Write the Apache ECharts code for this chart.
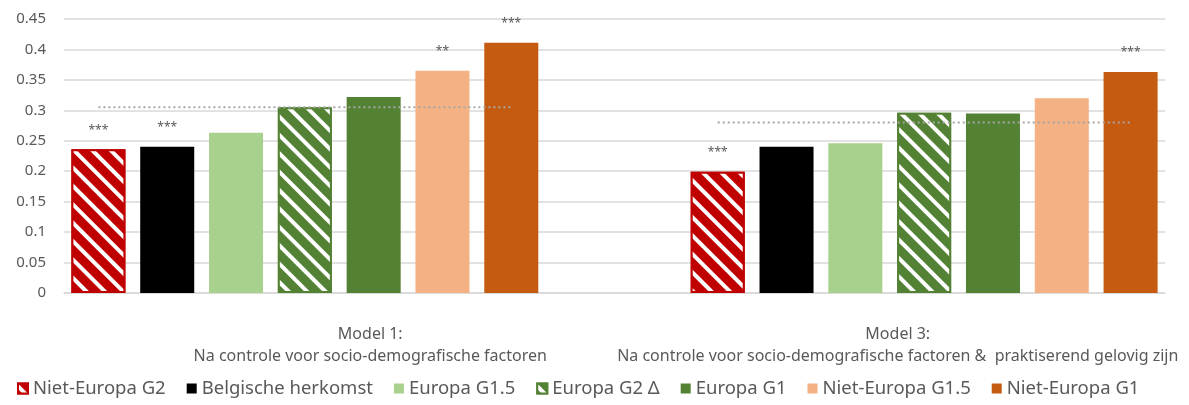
<!DOCTYPE html>
<html>
<head>
<meta charset="utf-8">
<script src="https://cdn.jsdelivr.net/npm/echarts@6/dist/echarts.min.js"></script>
<style>
html,body{margin:0;padding:0;background:#fff;}
#chart{width:1189px;height:405px;}
</style>
</head>
<body>
<div id="chart"></div>
<script>
// ---- data ----
const models = [
  'Model 1:\nNa controle voor socio-demografische factoren',
  'Model 3:\nNa controle voor socio-demografische factoren &  praktiserend gelovig zijn'
];
const seriesNames = ['Niet-Europa G2', 'Belgische herkomst', 'Europa G1.5', 'Europa G2 \u0394', 'Europa G1', 'Niet-Europa G1.5', 'Niet-Europa G1'];
const nietEuropaG2   = [0.236, 0.199];
const belgisch       = [0.240, 0.240];
const europaG15      = [0.263, 0.246];
const europaG2       = [0.305, 0.296];
const europaG1       = [0.322, 0.295];
const nietEuropaG15  = [0.365, 0.320];
const nietEuropaG1   = [0.411, 0.363];
const significance = [
  ['***', '***'],   // Niet-Europa G2
  ['***', ''],      // Belgische herkomst
  ['', ''],         // Europa G1.5
  ['', ''],         // Europa G2 Δ
  ['', ''],         // Europa G1
  ['**', ''],       // Niet-Europa G1.5
  ['***', '***']    // Niet-Europa G1
];
const referenceLine = [0.305, 0.280];
const yTicks = [0, 0.05, 0.1, 0.15, 0.2, 0.25, 0.3, 0.35, 0.4, 0.45];

// ---- layout helpers ----
const values = [nietEuropaG2, belgisch, europaG15, europaG2, europaG1, nietEuropaG15, nietEuropaG1];
const colors = ['#C00000', '#000000', '#A9D18E', '#548235', '#548235', '#F4B183', '#C55A11'];
const hatched = [true, false, false, true, false, false, false];
const nS = seriesNames.length;
const groupGap = 2;
const slotsPerModel = nS + groupGap;
const nSlots = models.length * nS + (models.length - 1) * groupGap;
const slotCats = Array.from({length: nSlots}, (_, i) => 's' + i);
const slotOf = (m, s) => m * slotsPerModel + s;

const series = values.map((vals, s) => {
  const data = new Array(nSlots).fill('-');
  vals.forEach((v, m) => {
    data[slotOf(m, s)] = { value: v, sig: significance[s][m] };
  });
  const st = { color: colors[s] };
  if (hatched[s]) {
    st.borderColor = colors[s];
    st.borderWidth = 2;
    st.decal = {
      symbol: 'rect',
      color: '#ffffff',
      dashArrayX: [1, 0],
      dashArrayY: [4, 9],
      rotation: Math.PI / 4,
      symbolSize: 1
    };
  }
  return {
    name: seriesNames[s],
    type: 'bar',
    xAxisIndex: 0,
    barGap: '-100%',
    barCategoryGap: '21.5%',
    data: data,
    itemStyle: st,
    label: {
      show: true,
      position: 'top',
      distance: 13,
      color: '#595959',
      fontFamily: 'Noto Sans',
      fontSize: 12,
      formatter: p => (p.data && p.data.sig) ? p.data.sig : ''
    },
    emphasis: { disabled: true },
    animation: false
  };
});

const lineData = new Array(nSlots).fill('-');
referenceLine.forEach((v, m) => {
  for (let s = 0; s < nS; s++) lineData[slotOf(m, s)] = v;
});
series.push({
  name: 'ref',
  type: 'line',
  xAxisIndex: 0,
  data: lineData,
  symbol: 'none',
  connectNulls: false,
  lineStyle: { color: '#A6A6A6', width: 2, type: [2, 3] },
  z: 5,
  silent: true,
  animation: false
});

const chart = echarts.init(document.getElementById('chart'), null, { renderer: 'canvas' });
chart.setOption({
  animation: false,
  backgroundColor: '#ffffff',
  aria: { decal: { show: false } },
  grid: { left: 64, right: 24, top: 19, bottom: 112, containLabel: false },
  legend: {
    data: seriesNames,
    top: 379,
    left: 17,
    itemWidth: 10,
    itemHeight: 10,
    itemGap: 21,
    icon: 'rect',
    textStyle: { color: '#595959', fontFamily: 'Noto Sans', fontSize: 18.5 },
    padding: 0
  },
  xAxis: [
    {
      type: 'category',
      data: slotCats,
      position: 'bottom',
      axisLine: { show: true, lineStyle: { color: '#D9D9D9', width: 1.5 } },
      axisTick: { show: false },
      axisLabel: { show: false },
      splitLine: { show: false }
    },
    {
      type: 'category',
      data: [
        { value: models[0], textStyle: { padding: [0, 0, 0, 62] } },
        { value: models[1], textStyle: { padding: [0, 0, 0, 16] } }
      ],
      position: 'bottom',
      axisLine: { show: false },
      axisTick: { show: false },
      splitLine: { show: false },
      axisLabel: {
        interval: 0,
        margin: 30,
        color: '#595959',
        fontFamily: 'Noto Sans',
        fontSize: 16,
        lineHeight: 22,
        align: 'center'
      }
    }
  ],
  yAxis: {
    type: 'value',
    min: yTicks[0],
    max: yTicks[yTicks.length - 1],
    interval: 0.05,
    axisLine: { show: false },
    axisTick: { show: false },
    splitLine: { show: true, lineStyle: { color: '#D9D9D9', width: 1.5 } },
    axisLabel: {
      margin: 18,
      color: '#595959',
      fontFamily: 'Noto Sans',
      fontSize: 15,
      formatter: v => String(parseFloat(v.toFixed(2)))
    }
  },
  series: series
});
</script>
</body>
</html>
